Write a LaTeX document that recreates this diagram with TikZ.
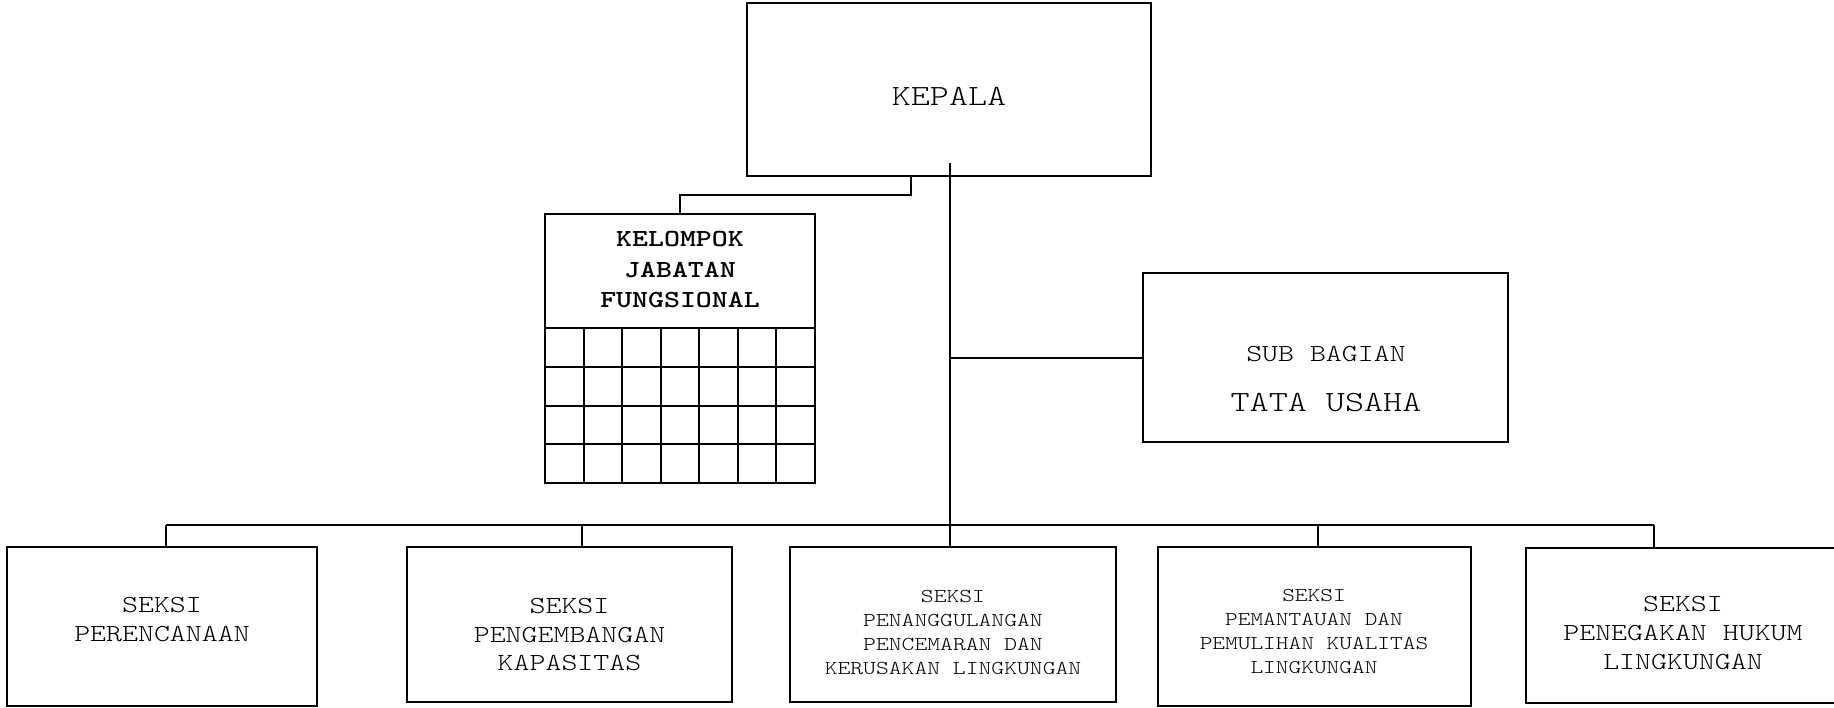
\documentclass[tikz,border=0pt]{standalone}
\usepackage{fontspec}
% thin slab-serif typewriter face, widened to a Courier-like advance
\newfontfamily\orgtype{lmmonolt10-regular.otf}[
  FakeStretch=1.24,
  BoldFont=lmmonolt10-bold.otf]
\newcommand\orgsize[2]{\orgtype\fontsize{#1}{#2}\selectfont}
\usetikzlibrary{calc}
\begin{document}
\begin{tikzpicture}[x=1pt,y=-1pt,
  box/.style={draw, line width=2pt, rectangle, inner sep=0pt, outer sep=0pt},
  wire/.style={line width=2pt},
  lbl/.style={align=center, inner sep=0pt, outer sep=0pt,
    font=\orgsize{24.5}{29}},
  lblbig/.style={lbl, font=\orgsize{29.3}{34}},
  lblsmall/.style={lbl, font=\orgsize{19.7}{24.3}},
]
\useasboundingbox (0,0) rectangle (1834,707);

% head of the office
\node[box, minimum width=404pt, minimum height=173pt] (kepala) at (949,89.5) {};
\node[lblbig] (kepalat) at (949,96) {KEPALA};

% functional group with its grid
\node[box, minimum width=270pt, minimum height=269pt] (kjf) at (680,348.5) {};
\node[lbl, font=\orgsize{24.5}{30.5}\bfseries] (kjft) at (680,270)
  {KELOMPOK\\JABATAN\\FUNGSIONAL};
\foreach \j in {0,...,3}
  \draw[wire] (545,{328+\j*38.75}) -- (815,{328+\j*38.75});
\foreach \i in {1,...,6}
  \draw[wire] ({545+\i*270/7},328) -- ({545+\i*270/7},483);

% administration sub-division
\node[box, minimum width=365pt, minimum height=169pt] (sub) at (1325.5,357.5) {};
\node[lbl, anchor=base] (subt1) at (1326,361) {SUB BAGIAN};
\node[lblbig, anchor=base] (subt2) at (1326,411) {TATA USAHA};

% sections
\node[box, minimum width=310pt, minimum height=159pt] (b1) at (162,626.5) {};
\node[box, minimum width=325pt, minimum height=155pt] (b2) at (569.5,624.5) {};
\node[box, minimum width=326pt, minimum height=155pt] (b3) at (953,624.5) {};
\node[box, minimum width=313pt, minimum height=159pt] (b4) at (1314.5,626.5) {};
\node[box, minimum width=314pt, minimum height=155pt] (b5) at (1683,625.5) {};

\node[lbl] (b1t) at (162,620) {SEKSI\\PERENCANAAN};
\node[lbl, font=\orgsize{24.5}{28.5}] (b2t) at (569.5,635)
  {SEKSI\\PENGEMBANGAN\\KAPASITAS};
\node[lblsmall] (b3t) at (953,632.5)
  {SEKSI\\PENANGGULANGAN\\PENCEMARAN DAN\\KERUSAKAN LINGKUNGAN};
\node[lblsmall, font=\orgsize{19.5}{24}] (b4t) at (1314,632)
  {SEKSI\\PEMANTAUAN DAN\\PEMULIHAN KUALITAS\\LINGKUNGAN};
\node[lbl] (b5t) at (1683,633.5) {SEKSI\\PENEGAKAN HUKUM\\LINGKUNGAN};

% connectors
\coordinate (hub) at (950,163);
\coordinate (kjtap) at (911,195);
\coordinate (d1) at (166,524.5);
\coordinate (d2) at (582,524.5);
\coordinate (d4) at (1318,524.5);
\coordinate (d5) at (1654,524.5);

\draw[wire] (hub) -- (hub |- b3.north);
\draw[wire] (hub |- sub.west) -- (sub.west);
\draw[wire] (kjtap |- kepala.south) -- (kjtap) -- (kjtap -| kjf.north) -- (kjf.north);
\draw[wire] (d1) -- (d5);
\draw[wire] (d1) -- (d1 |- b1.north);
\draw[wire] (d2) -- (d2 |- b2.north);
\draw[wire] (d4) -- (d4 |- b4.north);
\draw[wire] (d5) -- (d5 |- b5.north);
\end{tikzpicture}
\end{document}
